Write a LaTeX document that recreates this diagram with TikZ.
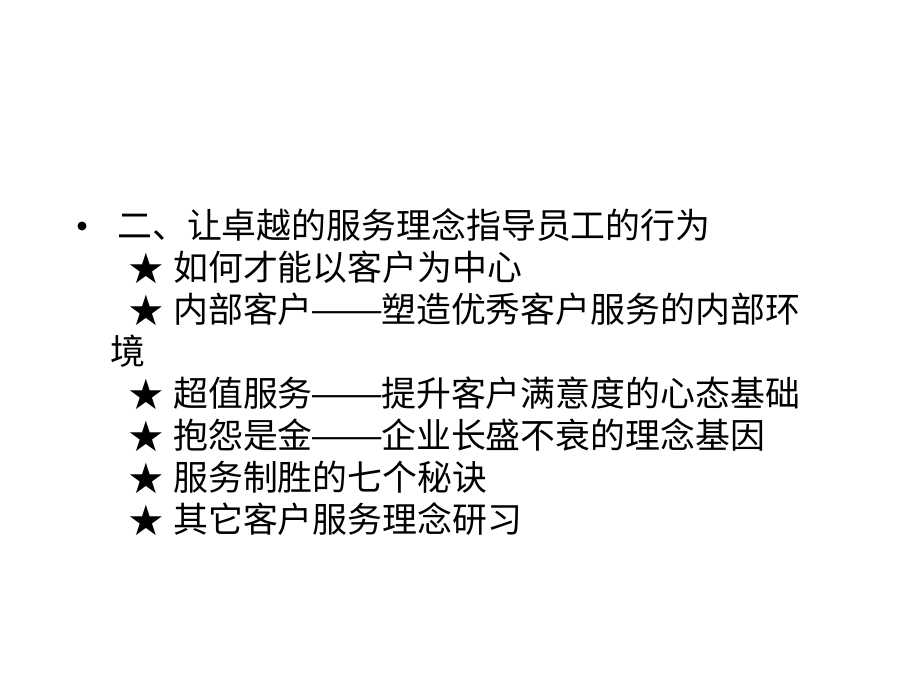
\documentclass[tikz,border=0pt]{standalone}
\usepackage{fontspec}
\setmainfont{Noto Sans CJK SC}
\newfontfamily\starfont{DejaVu Sans}
\newcommand{\longdash}{\hspace{-0.08em}\resizebox{2.1em}{\height}{——}\hspace{-0.06em}}
\begin{document}
\begin{tikzpicture}[x=1pt,y=-1pt,
  linetext/.style={anchor=base west,inner sep=0pt,font=\fontsize{34.9}{34.9}\selectfont},
  starmark/.style={anchor=center,inner sep=0pt,font=\starfont\fontsize{42}{42}\selectfont},
  bulletdot/.style={circle,fill=black,inner sep=0pt,minimum size=9pt}]
\fill[white] (0,0) rectangle (900,675);
\useasboundingbox (0,0) rectangle (900,675);
\node[bulletdot] (b0) at (82,226) {};
\node[linetext] (l1) at (117,238) {二、让卓越的服务理念指导员工的行为};
\node[starmark] (s2) at (146,268) {★};
\node[linetext] (l2) at (173,280) {如何才能以客户为中心};
\node[starmark] (s3) at (146,310) {★};
\node[linetext] (l3) at (173,322) {内部客户\longdash 塑造优秀客户服务的内部环};
\node[linetext] (l3b) at (110,364) {境};
\node[starmark] (s4) at (146,394) {★};
\node[linetext] (l4) at (173,406) {超值服务\longdash 提升客户满意度的心态基础};
\node[starmark] (s5) at (146,436) {★};
\node[linetext] (l5) at (173,448) {抱怨是金\longdash 企业长盛不衰的理念基因};
\node[starmark] (s6) at (146,478) {★};
\node[linetext] (l6) at (173,490) {服务制胜的七个秘诀};
\node[starmark] (s7) at (146,520) {★};
\node[linetext] (l7) at (173,532) {其它客户服务理念研习};
\end{tikzpicture}
\end{document}
